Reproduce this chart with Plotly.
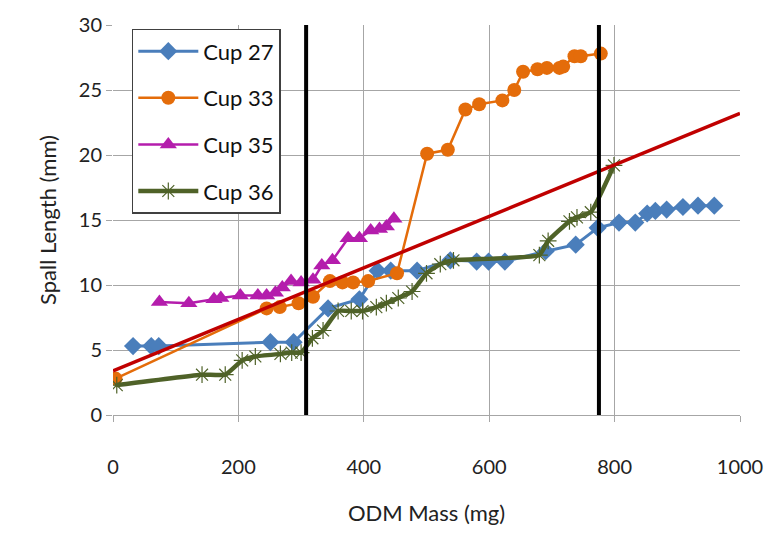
import plotly.graph_objects as go

# Cup 27
cup27_x = [32, 61, 73, 251, 288, 343, 393, 422, 443, 485, 538, 580, 599, 625, 690, 738, 773, 807, 833, 852, 865, 883, 909, 933, 959]
cup27_y = [5.3, 5.3, 5.3, 5.6, 5.6, 8.2, 8.9, 11.1, 11.1, 11.1, 11.9, 11.8, 11.8, 11.8, 12.6, 13.1, 14.4, 14.8, 14.8, 15.5, 15.7, 15.8, 16.0, 16.1, 16.1]
# Cup 33
cup33_x = [4, 245, 266, 296, 319, 346, 366, 383, 407, 453, 501, 534, 562, 584, 621, 640, 654, 677, 692, 712, 718, 736, 746, 778]
cup33_y = [2.8, 8.2, 8.3, 8.6, 9.1, 10.3, 10.2, 10.2, 10.3, 10.9, 20.1, 20.4, 23.5, 23.9, 24.2, 25.0, 26.4, 26.6, 26.7, 26.7, 26.8, 27.6, 27.6, 27.8]
# Cup 35
cup35_x = [74, 121, 161, 172, 203, 231, 245, 259, 270, 284, 300, 319, 333, 350, 375, 393, 411, 425, 436, 448]
cup35_y = [8.7, 8.6, 8.9, 9.0, 9.2, 9.2, 9.2, 9.4, 9.8, 10.3, 10.2, 10.4, 11.5, 11.9, 13.6, 13.6, 14.2, 14.3, 14.5, 15.1]
# Cup 36
cup36_x = [6, 142, 179, 206, 227, 267, 285, 300, 318, 335, 359, 380, 398, 420, 436, 455, 477, 500, 522, 543, 680, 694, 728, 740, 762, 799]
cup36_y = [2.3, 3.1, 3.1, 4.2, 4.5, 4.7, 4.8, 4.8, 5.9, 6.5, 8.0, 8.0, 8.0, 8.3, 8.6, 9.0, 9.5, 10.9, 11.6, 11.9, 12.3, 13.4, 14.9, 15.2, 15.6, 19.2]
# Linear fit line
fit_x = [0, 1000]
fit_y = [3.4, 23.2]
# Vertical boundary lines
vline1_x = [308, 308]
vline2_x = [775, 775]
vline_y = [0, 30]

FONT = "Lato"
fig = go.Figure()

fig.add_trace(go.Scatter(x=cup27_x, y=cup27_y, name="Cup 27", mode="lines+markers",
                         line=dict(color="#4A7EBB", width=3),
                         marker=dict(symbol="diamond", size=14, color="#4A7EBB"),
                         legendgroup="a"))
fig.add_trace(go.Scatter(x=cup33_x, y=cup33_y, name="Cup 33", mode="lines+markers",
                         line=dict(color="#E46C0A", width=2.5),
                         marker=dict(symbol="circle", size=14, color="#E46C0A"),
                         legendgroup="b"))
fig.add_trace(go.Scatter(x=cup35_x, y=cup35_y, name="Cup 35", mode="lines+markers",
                         line=dict(color="#B41DAC", width=2.5),
                         marker=dict(symbol="triangle-up", size=15, color="#B41DAC"),
                         legendgroup="c"))
fig.add_trace(go.Scatter(x=cup36_x, y=cup36_y, name="Cup 36", mode="lines+markers",
                         line=dict(color="#4F6228", width=4.5, shape="spline", smoothing=0.4),
                         marker=dict(symbol="asterisk-open", size=14,
                                     line=dict(color="#8FA06A", width=1.2)),
                         legendgroup="d"))
fig.add_trace(go.Scatter(x=fit_x, y=fit_y, mode="lines", showlegend=False,
                         line=dict(color="#C00000", width=3.5)))
fig.add_trace(go.Scatter(x=vline1_x, y=vline_y, mode="lines", showlegend=False,
                         line=dict(color="#000000", width=4)))
fig.add_trace(go.Scatter(x=vline2_x, y=vline_y, mode="lines", showlegend=False,
                         line=dict(color="#000000", width=4)))

fig.update_layout(
    width=775, height=534,
    margin=dict(l=113, r=30, t=15, b=119),
    paper_bgcolor="white", plot_bgcolor="white",
    font=dict(family=FONT, size=20, color="#222222"),
    legend=dict(x=0.03, y=0.99, xanchor="left", yanchor="top",
                bordercolor="#404040", borderwidth=1.5, bgcolor="white",
                font=dict(family=FONT, size=22, color="#111111"),
                tracegroupgap=15, traceorder="grouped", itemwidth=60),
    xaxis=dict(range=[0, 1000], dtick=200, showgrid=True, gridcolor="#A6A6A6", gridwidth=1,
               zeroline=False, showline=True, linecolor="#A6A6A6", linewidth=1,
               ticks="outside", ticklen=6, tickcolor="#A6A6A6",
               ticklabelstandoff=28,
               title=dict(text="ODM Mass (mg)", font=dict(family=FONT, size=22), standoff=28)),
    yaxis=dict(range=[0, 30], dtick=5, showgrid=True, gridcolor="#A6A6A6", gridwidth=1,
               zeroline=False, showline=False,
               ticks="outside", ticklen=6, tickcolor="#A6A6A6",
               title=dict(text="Spall Length (mm)", font=dict(family=FONT, size=22), standoff=16)),
)

fig.write_html("out.html")
